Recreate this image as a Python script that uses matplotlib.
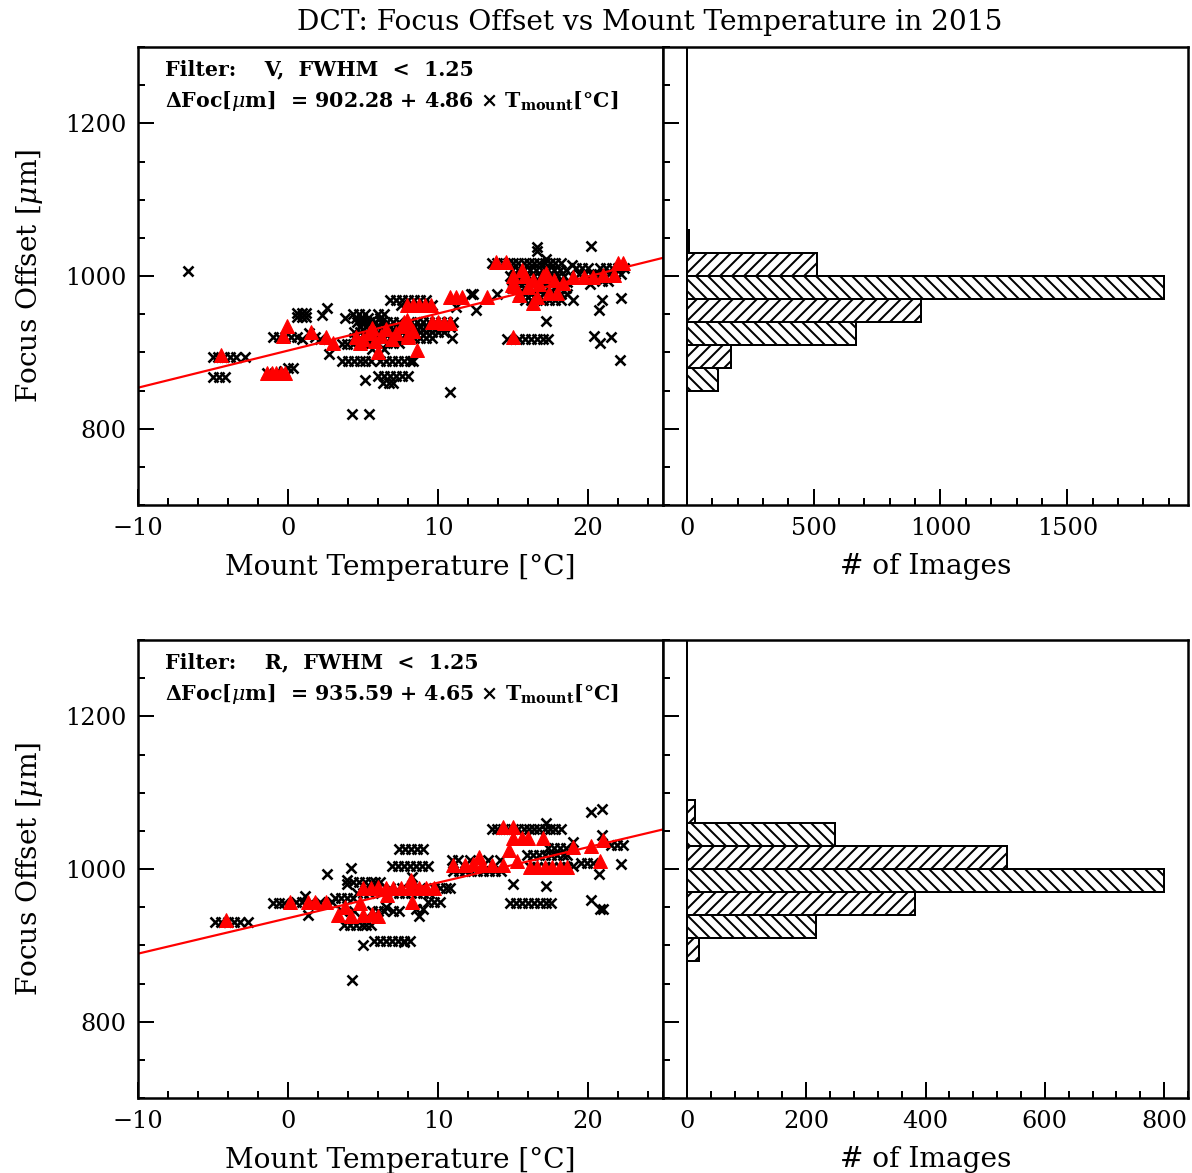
import numpy as np
import matplotlib
matplotlib.use('Agg')
import matplotlib.pyplot as plt
from matplotlib.ticker import MultipleLocator

# ---- V filter (top row) ----
v_fit = (902.28, 4.86)
v_crosses = [
    (-6.7, 1007),
    (-5.0, 894), (-4.7, 894), (-4.3, 894), (-3.9, 894), (-3.5, 894), (-2.9, 894),
    (-5.0, 868), (-4.6, 868), (-4.2, 868),
    (-1.4, 873), (-0.9, 873), (-0.3, 876), (0.0, 880), (0.3, 880),
    (-1.0, 920), (-0.6, 920), (-0.2, 920), (0.2, 920), (0.6, 920), (0.9, 918),
    (0.6, 952), (0.9, 952), (1.2, 952), (0.6, 946), (0.9, 946), (1.2, 946),
    (1.4, 925), (1.8, 920), (2.1, 918),
    (2.25, 949), (2.6, 958), (2.75, 898),
    (3.6, 911), (3.9, 911), (4.3, 911), (3.8, 945),
    (3.6, 889), (4.0, 889), (4.4, 889), (4.8, 889), (5.1, 889), (5.5, 889),
    (5.1, 864), (4.25, 819), (5.4, 819),
    (6.0, 869), (6.4, 869), (6.8, 869), (7.2, 869), (7.6, 869), (8.0, 869),
    (6.3, 860), (6.7, 860), (7.0, 860),
    (6.1, 888), (6.5, 888), (6.9, 888), (7.3, 888), (7.7, 888), (8.1, 888), (8.3, 888),
    (10.8, 848),
    (6.8, 969), (7.2, 969), (7.6, 969), (8.0, 969), (8.4, 969), (8.8, 969), (9.2, 969),
    (7.5, 962), (9.6, 962),
    (11.2, 960), (12.3, 976), (12.5, 955), (13.9, 976), (12.2, 977),
    (4.3, 950), (4.7, 950), (5.1, 950), (6.0, 950), (6.4, 950),
    (4.5, 945), (4.9, 945), (5.3, 945), (6.1, 945),
    (4.6, 940), (5.0, 940), (5.4, 940), (5.8, 940), (6.2, 940), (6.6, 940), (7.0, 940),
    (7.4, 940), (8.2, 940), (8.6, 940), (9.0, 940), (9.4, 940), (9.8, 940), (10.2, 940),
    (10.6, 940), (11.0, 940),
    (4.8, 933), (5.2, 933), (5.6, 933), (6.0, 933), (6.4, 933), (6.8, 933), (7.2, 933),
    (7.6, 933), (8.0, 933), (8.4, 933), (8.8, 933), (9.2, 933), (9.6, 933), (10.0, 933),
    (10.4, 933), (10.8, 933),
    (4.4, 926), (4.8, 926), (5.2, 926), (5.6, 926), (6.0, 926), (6.4, 926), (6.8, 926),
    (7.2, 926), (7.6, 926), (8.0, 926), (8.4, 926), (8.8, 926), (9.2, 926), (9.6, 926),
    (10.0, 926), (10.4, 926),
    (4.4, 919), (4.8, 919), (5.2, 919), (5.6, 919), (6.0, 919), (6.4, 919), (6.8, 919),
    (7.2, 919), (7.6, 919), (8.0, 919), (8.4, 919), (8.8, 919), (9.2, 919), (9.6, 919),
    (10.9, 919),
    (5.0, 912), (5.4, 912), (5.8, 912), (6.6, 912), (7.0, 912), (7.4, 912),
    (5.6, 905), (6.4, 905),
    (13.6, 1017), (13.95, 1017), (14.3, 1017), (14.65, 1017), (15.0, 1017), (15.35, 1017),
    (15.7, 1017), (16.05, 1017), (16.4, 1017), (16.75, 1017), (17.1, 1017), (17.45, 1017),
    (17.8, 1017), (18.2, 1017),
    (16.6, 1038), (16.6, 1033), (20.2, 1039), (17.2, 1022), (18.9, 1014),
    (14.9, 1008), (15.3, 1008), (15.7, 1008), (16.1, 1008), (16.5, 1008), (16.9, 1008),
    (17.3, 1008), (17.7, 1008), (18.1, 1008), (18.5, 1008),
    (14.8, 1000), (15.2, 1000), (15.6, 1000), (16.0, 1000), (16.4, 1000), (16.8, 1000),
    (17.2, 1000), (17.6, 1000), (18.0, 1000), (18.4, 1000),
    (15.0, 992), (15.4, 992), (15.8, 992), (16.2, 992), (16.6, 992), (17.0, 992),
    (17.4, 992), (17.8, 992), (18.2, 992), (18.6, 992),
    (14.9, 984), (15.3, 984), (15.7, 984), (16.1, 984), (16.5, 984), (16.9, 984),
    (17.3, 984), (17.7, 984), (18.1, 984), (18.5, 984),
    (15.4, 976), (15.8, 976), (16.2, 976), (16.6, 976), (17.0, 976), (17.4, 976),
    (17.8, 976), (18.2, 976), (18.6, 976),
    (15.8, 968), (16.2, 968), (16.6, 968), (17.0, 968), (17.4, 968), (17.8, 968), (18.2, 968),
    (19.0, 969), (17.2, 941),
    (14.6, 918), (15.4, 918), (15.8, 918), (16.2, 918), (16.6, 918), (17.0, 918), (17.3, 918),
    (19.2, 1010), (19.6, 1010), (20.0, 1010), (20.8, 1010), (21.2, 1010), (21.6, 1010),
    (22.0, 1010), (22.4, 1010),
    (19.4, 1002), (19.8, 1002), (20.2, 1002), (20.6, 1002), (21.0, 1002), (21.4, 1002),
    (21.8, 1002), (22.2, 1002),
    (20.9, 994), (21.3, 994),
    (20.1, 989), (20.9, 969), (22.2, 971), (20.7, 955), (20.4, 921), (20.8, 912),
    (21.5, 920), (22.1, 890),
]
v_triangles = [
    (-4.5, 896),
    (-1.4, 873), (-1.1, 873), (-0.8, 873), (-0.5, 873), (-0.2, 873),
    (-0.35, 921), (-0.1, 934),
    (1.5, 927), (2.5, 920), (3.0, 912),
    (6.0, 901), (8.6, 903),
    (4.5, 920), (4.8, 912), (5.0, 918), (5.4, 925), (5.6, 932), (5.8, 915), (6.2, 922),
    (6.5, 930), (6.9, 918), (7.2, 925), (7.6, 935), (7.7, 940), (8.0, 920), (8.3, 928),
    (7.9, 942), (8.0, 923),
    (7.9, 962), (8.3, 962), (8.7, 962), (9.1, 962), (9.5, 962),
    (9.6, 940), (10.0, 940), (10.4, 938), (10.8, 938),
    (10.8, 973), (11.2, 973), (11.6, 973),
    (13.25, 973),
    (13.85, 1018), (14.5, 1018),
    (15.0, 920),
    (14.9, 988), (15.0, 1000), (15.6, 1008), (15.1, 987), (16.3, 995), (16.0, 985),
    (16.6, 973), (17.0, 1000), (17.2, 1004), (17.4, 978), (17.7, 995), (17.9, 978),
    (18.3, 991), (16.3, 965), (15.4, 975), (16.7, 990), (15.8, 1000),
    (19.0, 999), (19.7, 999), (20.3, 999), (21.0, 1001), (21.7, 1001),
    (22.0, 1017), (22.3, 1017),
]
v_bin_lo = [850, 880, 910, 940, 970, 1000, 1030]
v_counts = [123, 175, 665, 923, 1882, 513, 9]

# ---- R filter (bottom row) ----
r_fit = (935.59, 4.65)
r_crosses = [
    (-4.9, 931), (-4.5, 931), (-4.0, 931), (-3.6, 931), (-3.2, 931), (-2.7, 931),
    (2.6, 994), (4.2, 1001), (3.9, 981), (3.9, 985),
    (-1.0, 956), (-0.6, 956), (-0.3, 956),
    (0.5, 957), (0.9, 957), (1.5, 957), (2.1, 957), (2.9, 957),
    (1.1, 964), (1.3, 940),
    (3.1, 962), (3.5, 962), (3.9, 962), (4.3, 962),
    (3.7, 926), (4.1, 926), (4.5, 926), (4.9, 926), (5.2, 926), (5.5, 926),
    (5.0, 901),
    (5.7, 906), (6.1, 906), (6.5, 906), (6.9, 906), (7.3, 906), (7.7, 906), (8.1, 906),
    (4.25, 855),
    (4.3, 983), (4.7, 983), (5.1, 983), (5.5, 983), (5.8, 983), (6.1, 983),
    (6.5, 950),
    (6.9, 1004), (7.3, 1004), (7.7, 1004), (8.1, 1004), (8.5, 1004), (8.9, 1004), (9.3, 1004),
    (7.4, 1026), (7.8, 1026), (8.2, 1026), (8.6, 1026), (9.0, 1026),
    (5.2, 975), (6.0, 975), (6.8, 975), (7.6, 975), (8.8, 975), (9.7, 975), (10.1, 975),
    (10.5, 975), (10.8, 975),
    (8.25, 990), (8.7, 938), (7.7, 905),
    (9.3, 957), (9.7, 957), (10.1, 957),
    (8.5, 948), (9.0, 948),
    (4.6, 968), (5.0, 968), (5.4, 968), (6.2, 968), (7.0, 968), (7.4, 968), (7.8, 968),
    (8.2, 968), (8.6, 968), (9.0, 968), (9.4, 968),
    (3.6, 945), (4.4, 945), (5.6, 945), (6.0, 945), (6.4, 945), (7.0, 945), (7.4, 945),
    (13.6, 1053), (13.95, 1053), (14.3, 1053), (14.65, 1053), (15.0, 1053), (15.35, 1053),
    (15.7, 1053), (16.05, 1053), (16.4, 1053), (16.75, 1053), (17.1, 1053), (17.45, 1053),
    (17.8, 1053), (18.2, 1053),
    (17.2, 1060), (20.2, 1075), (20.9, 1078),
    (17.3, 1028), (17.7, 1028), (18.1, 1028), (18.5, 1028),
    (19.0, 1035), (20.9, 1044), (21.5, 1031), (21.9, 1031), (22.3, 1031),
    (22.2, 1007), (20.7, 993), (20.2, 959), (20.8, 948), (21.0, 948),
    (19.0, 1004), (19.5, 1008), (19.9, 1008), (20.3, 1008),
    (15.9, 1018), (16.3, 1018), (16.7, 1018), (17.1, 1018), (17.5, 1018), (17.9, 1018),
    (18.3, 1018), (18.6, 1018),
    (16.1, 1003), (16.6, 1003), (17.1, 1003), (17.6, 1003), (18.1, 1003), (18.6, 1003),
    (15.0, 981), (17.2, 978),
    (14.8, 955), (15.2, 955), (15.6, 955), (16.0, 955), (16.4, 955), (16.8, 955),
    (17.2, 955), (17.5, 955),
    (11.0, 998), (11.4, 998), (11.8, 998), (12.2, 998), (12.6, 998), (13.0, 998),
    (13.4, 998), (13.8, 998), (14.2, 998),
    (10.9, 1012), (11.3, 1012), (12.1, 1012), (13.3, 1012), (14.1, 1012),
]
r_triangles = [
    (-4.15, 933),
    (0.1, 957), (1.3, 957), (1.8, 957), (2.5, 957),
    (3.3, 940), (4.2, 939), (5.0, 940), (5.6, 941), (6.0, 939), (3.8, 950), (4.8, 955),
    (5.0, 975), (5.5, 975), (6.0, 977), (6.5, 975), (7.0, 975), (7.5, 975), (8.1, 975),
    (6.6, 966),
    (8.2, 986), (8.7, 975), (9.2, 975), (9.7, 975), (8.25, 957),
    (11.0, 1005), (11.8, 1005), (12.3, 1006), (12.9, 1005), (13.6, 1005), (14.3, 1005),
    (12.7, 1016),
    (14.35, 1055), (15.0, 1055),
    (15.0, 1040), (15.6, 1040), (16.0, 1040), (17.0, 1040),
    (14.7, 1025), (15.25, 1010),
    (16.1, 1003), (16.6, 1003), (17.1, 1003), (17.6, 1003), (18.1, 1003), (18.6, 1003),
    (19.0, 1029), (20.2, 1030), (21.0, 1038), (20.8, 1010),
]
r_bin_lo = [880, 910, 940, 970, 1000, 1030, 1060]
r_counts = [21, 216, 382, 800, 536, 248, 14]

BIN_W = 30
DPI = 72
W, H = 1192, 1173

plt.rcParams['font.family'] = ['DejaVu Serif']
plt.rcParams['mathtext.fontset'] = 'dejavuserif'
plt.rcParams['hatch.linewidth'] = 2.0

fig = plt.figure(figsize=(W / DPI, H / DPI), dpi=DPI)


def ticks_style(ax):
    ax.tick_params(which='both', direction='in', top=False, right=False, width=2)
    ax.tick_params(which='major', length=16, labelsize=24, pad=12)
    ax.tick_params(which='minor', length=7)
    for s in ax.spines.values():
        s.set_linewidth(2.5)


def scatter_panel(rect, crosses, tris, fit, filt):
    ax = fig.add_axes(rect)
    ct, cf = np.array(crosses).T
    tt, tf = np.array(tris).T
    ax.plot(ct, cf, 'x', color='k', ms=10, mew=2.6, ls='none')
    xs = np.array([-10, 25])
    ax.plot(xs, fit[0] + fit[1] * xs, color='red', lw=2.2)
    ax.plot(tt, tf, '^', color='red', mec='red', ms=14, ls='none')
    ax.set_xlim(-10, 25)
    ax.set_ylim(700, 1300)
    ax.xaxis.set_major_locator(MultipleLocator(10))
    ax.xaxis.set_minor_locator(MultipleLocator(2))
    ax.yaxis.set_major_locator(MultipleLocator(200))
    ax.yaxis.set_minor_locator(MultipleLocator(50))
    ticks_style(ax)
    ax.set_xlabel('Mount Temperature [°C]', fontsize=28)
    ax.set_ylabel(r'Focus Offset [$\mu$m]', fontsize=28)
    ax.xaxis.set_label_coords(0.5, -0.106)
    ax.yaxis.set_label_coords(-0.178, 0.5)
    ax.text(0.051, 0.952, 'Filter:    %s,  FWHM  <  1.25' % filt, transform=ax.transAxes,
            fontsize=20.5, fontweight='bold', va='center')
    ax.text(0.051, 0.883,
            r'ΔFoc[$\mu$m]  = %.2f + %.2f × T$_{\mathbf{mount}}$[°C]' % fit,
            transform=ax.transAxes, fontsize=20.5, fontweight='bold', va='center')
    return ax


def hist_panel(rect, lo, counts, major, minor):
    ax = fig.add_axes(rect)
    for b, n in zip(lo, counts):
        hatch = '//' if ((b - 880) // BIN_W) % 2 == 0 else '\\\\'
        ax.barh(b, n, height=BIN_W, align='edge', color='white', edgecolor='k',
                lw=2, hatch=hatch)
    ax.axvline(0, color='k', lw=2)
    top = max(counts)
    ax.set_xlim(-0.05 * top, 1.05 * top)
    ax.set_ylim(700, 1300)
    ax.xaxis.set_major_locator(MultipleLocator(major))
    ax.xaxis.set_minor_locator(MultipleLocator(minor))
    ax.yaxis.set_major_locator(MultipleLocator(200))
    ax.yaxis.set_minor_locator(MultipleLocator(50))
    ticks_style(ax)
    ax.tick_params(axis='y', labelleft=False)
    ax.set_xlabel('# of Images', fontsize=28)
    ax.xaxis.set_label_coords(0.5, -0.104)
    return ax


left_x, right_x, aw = 138 / W, 663 / W, 525 / W
ah = 458 / H
top_y = (H - 505) / H
bot_y = (H - 1098) / H

scatter_panel([left_x, top_y, aw, ah], v_crosses, v_triangles, v_fit, 'V')
hist_panel([right_x, top_y, aw, ah], v_bin_lo, v_counts, 500, 100)
scatter_panel([left_x, bot_y, aw, ah], r_crosses, r_triangles, r_fit, 'R')
hist_panel([right_x, bot_y, aw, ah], r_bin_lo, r_counts, 200, 40)

fig.text(650 / W, 1 - 23 / H, 'DCT: Focus Offset vs Mount Temperature in 2015',
         ha='center', va='center', fontsize=28)

fig.savefig('out.png', dpi=DPI)
